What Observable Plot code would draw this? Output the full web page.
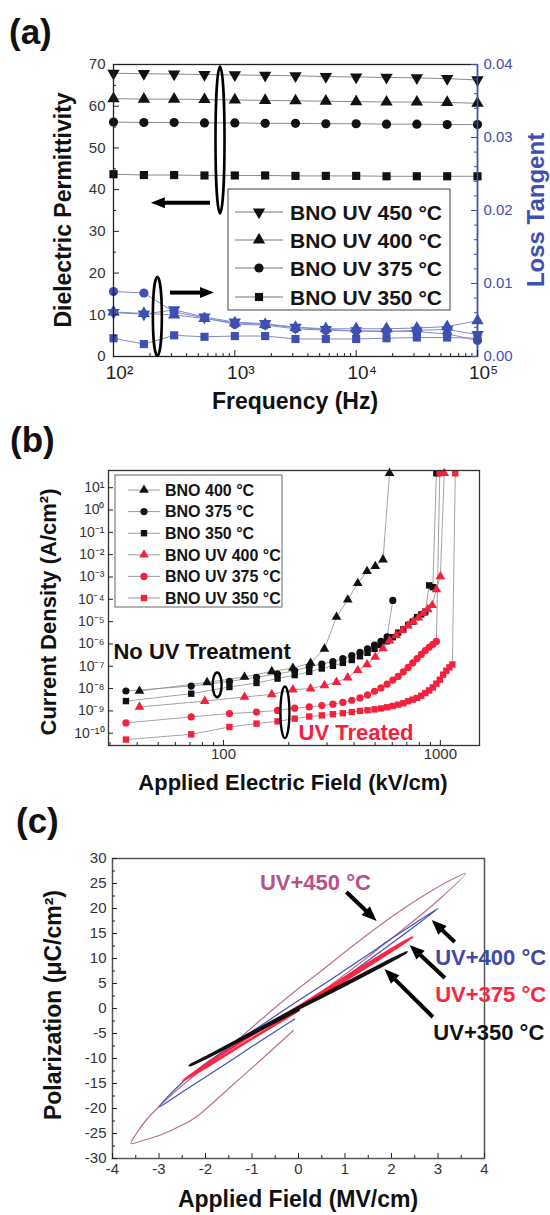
<!DOCTYPE html>
<html><head><meta charset="utf-8">
<script src="https://cdn.jsdelivr.net/npm/d3@7"></script>
<script src="https://cdn.jsdelivr.net/npm/@observablehq/plot@0.6"></script>
<style>
body{margin:0;background:#fff;}
#wrap{position:relative;width:550px;height:1215px;overflow:hidden;background:#fff;font-family:Arial,"Liberation Sans",Helvetica,sans-serif}
#wrap svg{position:absolute;left:0;display:block}
</style></head><body><div id="wrap"></div>
<script>
const FONT = "Arial, 'Liberation Sans', Helvetica, sans-serif";
const W = 550;

// ================= Panel (a) data =================
const freqHz = [100,178,316,562,1000,1778,3162,5623,10000,17783,31623,56234,100000];
const labelsA = ["BNO UV 450 °C","BNO UV 400 °C","BNO UV 375 °C","BNO UV 350 °C"];
const perm450 = [67.9,67.8,67.7,67.6,67.5,67.4,67.3,67.1,67.0,66.9,66.8,66.6,66.3];
const perm400 = [61.8,61.7,61.7,61.6,61.5,61.4,61.3,61.2,61.1,61.0,61.0,60.9,60.7];
const perm375 = [56.2,56.1,56.1,56.0,56.0,55.9,55.9,55.8,55.8,55.7,55.7,55.6,55.6];
const perm350 = [43.7,43.5,43.5,43.4,43.4,43.4,43.3,43.3,43.3,43.2,43.2,43.2,43.2];
const loss450 = [0.0060,0.0058,0.0064,0.0054,0.0047,0.0045,0.0040,0.0037,0.0035,0.0034,0.0036,0.0037,0.0030];
const loss400 = [0.0061,0.0059,0.0057,0.0052,0.0046,0.0044,0.0040,0.0038,0.0038,0.0038,0.0039,0.0041,0.0049];
const loss375 = [0.0089,0.0087,0.0061,0.0053,0.0044,0.0043,0.0038,0.0036,0.0035,0.0035,0.0034,0.0031,0.0022];
const loss350 = [0.0025,0.0017,0.0029,0.0027,0.0028,0.0028,0.0024,0.0024,0.0024,0.0025,0.0026,0.0026,0.0025];
const permTicks = [0,10,20,30,40,50,60,70];
const lossTicks = [0,0.01,0.02,0.03,0.04];
const freqTicks = [100,1000,10000,100000];
const freqTickLabels = ["10²","10³","10⁴","10⁵"];
// annotation positions (data units)
const arrowsA = [{x1:630,y1:36.75,x2:205,y2:36.75},{x1:295,y1:15.2,x2:680,y2:15.2}];
const ellipsesA = [{x:762,y1:34.2,y2:69.4},{x:232,y1:0,y2:19}];

// ================= Panel (b) data =================
const labelsB = ["BNO 400 °C","BNO 375 °C","BNO 350 °C","BNO UV 400 °C","BNO UV 375 °C","BNO UV 350 °C"];
const bno400E = [41,84,125,167,209,252,292,332,374,416,459,501,544,583];
const bno400J = [7.8e-9,1.9e-8,3.3e-8,5.9e-8,8.3e-8,1.4e-7,6.0e-7,1.6e-5,9.5e-5,5.2e-4,1.8e-3,3.0e-3,6.0e-3,44];
const bno375E = [35.5,71,106.5,142,177.5,213,248.5,284,319.5,355,390.5,426,461.5,497,532.5,568,603.5];
const bno375J = [7.8e-9,1.3e-8,2.1e-8,3.2e-8,4.5e-8,6.3e-8,9.5e-8,1.26e-7,1.6e-7,2.2e-7,3.0e-7,4.2e-7,6.0e-7,8.9e-7,1.32e-6,2.1e-6,8.9e-5];
const bno350E = [35.5,71,106.5,142,177.5,213,248.5,284,319.5,355,390.5,426,461.5,497,532.5,568,603.5,639,674.5,710,745.5,781,816.5,852,887.5,923,958.5];
const bno350J = [2.75e-9,5.9e-9,1.17e-8,1.78e-8,2.8e-8,4.0e-8,5.6e-8,7.9e-8,1.05e-7,1.41e-7,1.9e-7,2.8e-7,4.0e-7,6.0e-7,8.9e-7,1.32e-6,2.0e-6,3.2e-6,4.5e-6,7.1e-6,1.0e-5,1.6e-5,2.1e-5,2.8e-5,4.2e-4,3.5e-4,44];
const uv400E = [41,82,125,167,209,252,292,332,374,416,459,501,544,583,625,667,709,750,792,834,875,917,959,1000,1042];
const uv400J = [1.5e-9,2.75e-9,4.2e-9,5.5e-9,8.9e-9,1.0e-8,1.38e-8,1.95e-8,3.1e-8,6.6e-8,1.2e-7,2.6e-7,6.2e-7,1.41e-6,2.4e-6,4.0e-6,6.6e-6,1.0e-5,1.5e-5,2.4e-5,3.5e-5,5.4e-5,2.75e-4,1.05e-3,44];
const uv375E = [35.5,71,106.5,142,177.5,213,248.5,284,319.5,355,390.5,426,461.5,497,532.5,568,603.5,639,674.5,710,745.5,781,816.5,852,887.5,923,958.5,994];
const uv375J = [2.9e-10,5.4e-10,7.6e-10,8.9e-10,1.05e-9,1.32e-9,1.51e-9,1.74e-9,2.0e-9,2.4e-9,3.0e-9,3.8e-9,5.2e-9,7.6e-9,1.07e-8,1.58e-8,2.4e-8,3.5e-8,5.6e-8,8.9e-8,1.41e-7,2.2e-7,3.4e-7,5.0e-7,7.1e-7,9.5e-7,1.29e-6,44];
const uv350E = [35.5,71,106.5,142,177.5,213,248.5,284,319.5,355,390.5,426,461.5,497,532.5,568,603.5,639,674.5,710,745.5,781,816.5,852,887.5,923,958.5,994,1029.5,1065,1100.5,1136,1171.5];
const uv350J = [5.2e-11,8.9e-11,1.9e-10,2.7e-10,3.4e-10,4.5e-10,5.6e-10,6.3e-10,7.1e-10,7.9e-10,8.9e-10,1.0e-9,1.07e-9,1.17e-9,1.29e-9,1.45e-9,1.66e-9,1.9e-9,2.2e-9,2.7e-9,3.2e-9,3.8e-9,4.8e-9,6.3e-9,8.3e-9,1.12e-8,1.66e-8,2.5e-8,4.2e-8,6.3e-8,8.9e-8,1.2e-7,44];
const jTicks = [1e1,1e0,1e-1,1e-2,1e-3,1e-4,1e-5,1e-6,1e-7,1e-8,1e-9,1e-10];
const jTickLabels = ["10¹","10⁰","10⁻¹","10⁻²","10⁻³","10⁻⁴","10⁻⁵","10⁻⁶","10⁻⁷","10⁻⁸","10⁻⁹","10⁻¹⁰"];
const fieldTicks = [100,1000];
const fieldTickLabels = ["100","1000"];
const notesB = [{x:31.1,y:4.2e-7,text:"No UV Treatment",color:"#111"},{x:222,y:1.0e-10,text:"UV Treated",color:"#f5203c"}];
const ellipsesB = [{x:94,y1:5.0e-8,y2:3.9e-9},{x:193,y1:1.17e-8,y2:5.8e-11}];

// ================= Panel (c) data =================
const labelsC = ["UV+450 °C","UV+400 °C","UV+375 °C","UV+350 °C"];
const loop450E = [0,1.0,2.0,3.0,3.59,3.3,2.8,2.2,1.6,1.0,0.5,0,-0.5,-1,-1.5,-2,-2.5,-3,-3.3,-3.5,-3.6,-3.35,-2.92,-2.5,-2.2,-1.5,-0.8,-0.11];
const loop450P = [0,6.8,14.0,21.6,27,25.8,23.2,19.6,15.6,11.3,7.6,4.0,0.2,-3.8,-7.8,-11.6,-15.4,-19.6,-22.6,-25.2,-27,-26.4,-25.1,-23.3,-21.7,-16.0,-10.2,-4.4];
const loop400E = [0,1,2,3,2.5,2,1.5,1,0.5,0,-0.5,-1,-1.5,-2,-2.5,-3,-2.5,-2,-1.5,-1,-0.5,-0.08];
const loop400P = [0,6.3,13,20,17,14,10.8,7.7,4.6,1.6,-1.5,-4.6,-7.8,-11,-14.8,-19.7,-16.7,-13.7,-10.7,-7.6,-4.6,-2.1];
const loop375E = [0,1,2,2.45,2,1,0,-1,-2,-2.48,-2,-1,0];
const loop375P = [0,5.6,11.5,14.3,11.9,6.2,0.4,-5.3,-11.3,-14.4,-11.8,-6.0,-0.4];
const loop350E = [0,1,2,2.33,2,1,0,-1,-2,-2.34,-2,-1,0];
const loop350P = [0,4.7,9.6,11.3,9.8,5.0,0.2,-4.8,-9.8,-11.4,-9.9,-5.1,-0.2];
const labelCX = [-0.83,2.94,2.94,2.90];
const labelCY = [25.2,10.2,2.8,-4.8];
const arrowsC = [{x1:1.04,y1:23.2,x2:1.69,y2:17.4},{x1:3.37,y1:13.2,x2:2.875,y2:17.6},{x1:3.16,y1:6.0,x2:2.40,y2:12.6},{x1:2.90,y1:-1.8,x2:1.86,y2:7.8}];
const fieldCTicks = [-4,-3,-2,-1,0,1,2,3,4];
const polTicks = [-30,-25,-20,-15,-10,-5,0,5,10,15,20,25,30];

// ================= helpers =================
const triangleDown = {
  draw(ctx, size) {
    const y = -Math.sqrt(size / (Math.sqrt(3) * 3));
    ctx.moveTo(0, -y * 2);
    ctx.lineTo(-Math.sqrt(3) * y, y);
    ctx.lineTo(Math.sqrt(3) * y, y);
    ctx.closePath();
  }
};
const d3sym = {triangle: d3.symbolTriangle, circle: d3.symbolCircle, square: d3.symbolSquare};
const symOf = s => typeof s === "string" ? d3sym[s] : s;

const tickB = (vals, len, innerH, stroke="#222", sw=1) => Plot.tickX(vals, {x: d => d, insetTop: innerH - len, stroke, strokeWidth: sw});
const tickL = (vals, len, innerW, stroke="#222", sw=1) => Plot.tickY(vals, {y: d => d, insetRight: innerW - len, stroke, strokeWidth: sw});
const tickR = (vals, len, innerW, stroke="#222", sw=1) => Plot.tickY(vals, {y: d => d, insetLeft: innerW - len, stroke, strokeWidth: sw});

function render(draw) {
  return (index, scales, values, dims) => {
    const g = d3.create("svg:g").attr("text-anchor", "start");
    draw(g, scales, dims);
    return g.node();
  };
}
function arrow(g, x1, y1, x2, y2, {width=4, headLen=13, headW=12, color="#000"} = {}) {
  const dx = x2 - x1, dy = y2 - y1, L = Math.hypot(dx, dy), ux = dx / L, uy = dy / L;
  const bx = x2 - ux * headLen, by = y2 - uy * headLen;
  g.append("line").attr("x1", x1).attr("y1", y1).attr("x2", bx + ux).attr("y2", by + uy)
    .attr("stroke", color).attr("stroke-width", width);
  g.append("path").attr("d", `M${x2},${y2}L${bx - uy * headW / 2},${by + ux * headW / 2}L${bx + uy * headW / 2},${by - ux * headW / 2}Z`).attr("fill", color);
}
function legend(g, dims, o) {
  const X0 = dims.marginLeft, Y0 = dims.marginTop;
  g.append("rect").attr("x", X0 + o.ox).attr("y", Y0 + o.oy).attr("width", o.w).attr("height", o.h)
    .attr("fill", "#fff").attr("stroke", o.boxStroke).attr("stroke-width", 1);
  o.rows.forEach(rw => {
    const yy = Y0 + rw.dy;
    g.append("line").attr("x1", X0 + o.lx1).attr("x2", X0 + o.lx2).attr("y1", yy).attr("y2", yy)
      .attr("stroke", o.lineColor).attr("stroke-width", 1);
    g.append("path").attr("transform", `translate(${X0 + o.sx},${yy})`)
      .attr("d", d3.symbol(symOf(rw.sym), Math.PI * o.r * o.r)()).attr("fill", rw.color);
    g.append("text").attr("x", X0 + o.tx).attr("y", yy).attr("dy", "0.36em").attr("text-anchor", "start")
      .attr("font-weight", "bold").attr("font-size", o.fontSize).attr("fill", "#151515")
      .attr("font-family", FONT).text(rw.label);
  });
}
const baseStyle = {fontFamily: FONT, fontSize: "15px", background: "transparent", overflow: "visible", color: "#222"};

const wrap = document.getElementById("wrap");

// ================= Panel (a) =================
{
  const H = 420, m = {top: 64, right: 73, bottom: 64, left: 113};
  const iW = W - m.left - m.right, iH = H - m.top - m.bottom;
  const K = 70 / 0.04;
  const blue = "#3f50b3";
  const permSeries = [perm450, perm400, perm375, perm350];
  const lossSeries = [loss450, loss400, loss375, loss350];
  const syms = [triangleDown, "triangle", "circle", "square"];
  const permRows = labelsA.map((label, i) => freqHz.map((f, j) => ({label, f, v: permSeries[i][j]})));
  const lossRows = labelsA.map((label, i) => freqHz.map((f, j) => ({label, f, v: lossSeries[i][j] * K})));
  const minorF = [200,300,400,500,600,700,800,900,2000,3000,4000,5000,6000,7000,8000,9000,20000,30000,40000,50000,60000,70000,80000,90000];
  const marks = [];
  [0,1,2,3].forEach(i => {
    marks.push(Plot.line(permRows[i], {x: "f", y: "v", stroke: "#8a8a8a", strokeWidth: 1}));
    marks.push(Plot.dot(permRows[i], {x: "f", y: "v", symbol: syms[i], fill: "#111", r: 4.6}));
  });
  [0,2,1,3].forEach(i => {
    marks.push(Plot.line(lossRows[i], {x: "f", y: "v", stroke: "#7f8bcc", strokeWidth: 1}));
    marks.push(Plot.dot(lossRows[i], {x: "f", y: "v", symbol: syms[i], fill: blue, r: 4.6}));
  });
  marks.push(
    Plot.frame({stroke: "#222", strokeWidth: 1.3}),
    Plot.ruleX([1e5], {stroke: blue, strokeWidth: 1.5}),
    tickB(freqTicks, 6, iH), tickB(minorF, 3, iH),
    tickL(permTicks, 6, iW), tickL([5,15,25,35,45,55,65], 3, iW),
    tickR(lossTicks.map(d => d * K), 6, iW, blue),
    tickR([0.002,0.004,0.006,0.008,0.012,0.014,0.016,0.018,0.022,0.024,0.026,0.028,0.032,0.034,0.036,0.038].map(d => d * K), 3, iW, blue),
    Plot.text(permTicks, {y: d => d, text: d => String(d), frameAnchor: "left", textAnchor: "end", dx: -8, fontSize: 15, fill: "#333"}),
    Plot.text(lossTicks, {y: d => d * K, text: d => d.toFixed(2), frameAnchor: "right", textAnchor: "start", dx: 6, fontSize: 15, fill: blue}),
    Plot.text(freqTicks, {x: d => d, text: (d, i) => freqTickLabels[i], frameAnchor: "bottom", dx: 6, dy: 22, fontSize: 19, fill: "#222"}),
    render((g, s, dims) => {
      ellipsesA.forEach(e => {
        const ya = s.y(e.y1), yb = s.y(e.y2);
        g.append("ellipse").attr("cx", s.x(e.x)).attr("cy", (ya + yb) / 2).attr("rx", 4.5).attr("ry", Math.abs(ya - yb) / 2)
          .attr("fill", "none").attr("stroke", "#000").attr("stroke-width", 2.6);
      });
      arrowsA.forEach(a => arrow(g, s.x(a.x1), s.y(a.y1), s.x(a.x2), s.y(a.y2), {width: 4, headLen: 14, headW: 11}));
      legend(g, dims, {ox: 115, oy: 125, w: 222, h: 121, r: 4.6, lx1: 122, lx2: 170, sx: 146, tx: 177, fontSize: 21,
        boxStroke: "#444", lineColor: "#777",
        rows: labelsA.map((label, i) => ({label, sym: syms[i], color: "#111", dy: [148, 176, 204, 233][i]}))});
    })
  );
  const svg = Plot.plot({width: W, height: H, marginTop: m.top, marginRight: m.right, marginBottom: m.bottom, marginLeft: m.left,
    x: {type: "log", domain: [100, 1e5], axis: null}, y: {domain: [0, 70], axis: null}, style: baseStyle, marks});
  svg.style.top = "0px";
  wrap.appendChild(svg);
}

// ================= Panel (b) =================
{
  const H = 380, m = {top: 50, right: 71, bottom: 55, left: 108};
  const iW = W - m.left - m.right, iH = H - m.top - m.bottom;
  const red = "#f5203c";
  const series = [
    {E: bno400E, J: bno400J, sym: "triangle", color: "#111"},
    {E: bno375E, J: bno375J, sym: "circle", color: "#111"},
    {E: bno350E, J: bno350J, sym: "square", color: "#111"},
    {E: uv400E, J: uv400J, sym: "triangle", color: red},
    {E: uv375E, J: uv375J, sym: "circle", color: red},
    {E: uv350E, J: uv350J, sym: "square", color: red}
  ];
  const marks = [];
  series.forEach(sr => {
    const rows = sr.E.map((e, j) => ({e, j: sr.J[j]}));
    marks.push(Plot.line(rows, {x: "e", y: "j", stroke: "#8c8c8c", strokeWidth: 0.8}));
  });
  series.forEach(sr => {
    const rows = sr.E.map((e, j) => ({e, j: sr.J[j]}));
    marks.push(Plot.dot(rows, {x: "e", y: "j", symbol: sr.sym, fill: sr.color, r: 3.6}));
  });
  marks.push(
    Plot.frame({stroke: "#333", strokeWidth: 1.3}),
    tickB(fieldTicks, 5, iH), tickB([30,40,50,60,70,80,90,200,300,400,500,600,700,800,900], 3, iH),
    tickL(jTicks, 5, iW),
    Plot.text(jTicks, {y: d => d, text: (d, i) => jTickLabels[i], frameAnchor: "left", textAnchor: "end", dx: -4, fontSize: 14, fill: "#333"}),
    Plot.text(fieldTicks, {x: d => d, text: (d, i) => fieldTickLabels[i], frameAnchor: "bottom", dy: 13, fontSize: 15, fill: "#333"}),
    ...notesB.map(n => Plot.text([n], {x: "x", y: "y", text: "text", fill: n.color, textAnchor: "start", fontWeight: "bold", fontSize: 22})),
    render((g, s, dims) => {
      ellipsesB.forEach(e => {
        const ya = s.y(e.y1), yb = s.y(e.y2);
        g.append("ellipse").attr("cx", s.x(e.x)).attr("cy", (ya + yb) / 2).attr("rx", 4.5).attr("ry", Math.abs(ya - yb) / 2)
          .attr("fill", "none").attr("stroke", "#000").attr("stroke-width", 2.4);
      });
      legend(g, dims, {ox: 7, oy: 5, w: 167, h: 132, r: 3.6, lx1: 20, lx2: 52, sx: 36, tx: 57, fontSize: 16,
        boxStroke: "#666", lineColor: "#999",
        rows: labelsB.map((label, i) => ({label, sym: series[i].sym, color: series[i].color, dy: 20 + i * 21.6}))});
    })
  );
  const svg = Plot.plot({width: W, height: H, marginTop: m.top, marginRight: m.right, marginBottom: m.bottom, marginLeft: m.left,
    x: {type: "log", domain: [29.5, 1515], axis: null}, y: {type: "log", domain: [10 ** -10.55, 10 ** 1.77], axis: null},
    style: baseStyle, marks});
  svg.style.top = "420px";
  wrap.appendChild(svg);
}

// ================= Panel (c) =================
{
  const H = 415, m = {top: 58, right: 66, bottom: 57, left: 112};
  const iW = W - m.left - m.right, iH = H - m.top - m.bottom;
  const colors = ["#bb4f8c", "#3f4aa8", "#ff2340", "#111"];
  const lineColors = ["#b9709a", "#4153b0", "#ff2340", "#111"];
  const loops = [[loop450E, loop450P, 1.2], [loop400E, loop400P, 1.2], [loop375E, loop375P, 2.6], [loop350E, loop350P, 2.8]];
  const marks = [Plot.frame({stroke: "#555", strokeWidth: 1.5})];
  loops.forEach(([E, P, sw], i) => {
    const rows = E.map((e, j) => ({e, p: P[j]}));
    marks.push(Plot.line(rows, {x: "e", y: "p", stroke: lineColors[i], strokeWidth: sw, curve: "catmull-rom"}));
  });
  labelsC.forEach((t, i) => {
    marks.push(Plot.text([{x: labelCX[i], y: labelCY[i], t}], {x: "x", y: "y", text: "t", fill: colors[i], textAnchor: "start", fontWeight: "bold", fontSize: 22}));
  });
  marks.push(
    tickB(fieldCTicks, 5, iH), tickB([-3.5,-2.5,-1.5,-0.5,0.5,1.5,2.5,3.5], 3, iH),
    tickL(polTicks, 5, iW), tickL([-27.5,-22.5,-17.5,-12.5,-7.5,-2.5,2.5,7.5,12.5,17.5,22.5,27.5], 3, iW),
    Plot.text(polTicks, {y: d => d, text: d => String(d), frameAnchor: "left", textAnchor: "end", dx: -6, fontSize: 15, fill: "#333"}),
    Plot.text(fieldCTicks, {x: d => d, text: d => String(d), frameAnchor: "bottom", dy: 15, fontSize: 15, fill: "#333"}),
    render((g, s) => {
      arrowsC.forEach(a => arrow(g, s.x(a.x1), s.y(a.y1), s.x(a.x2), s.y(a.y2), {width: 4, headLen: 15, headW: 12}));
    })
  );
  const svg = Plot.plot({width: W, height: H, marginTop: m.top, marginRight: m.right, marginBottom: m.bottom, marginLeft: m.left,
    x: {domain: [-4, 4], axis: null}, y: {domain: [-30, 30], axis: null}, style: baseStyle, marks});
  svg.style.top = "800px";
  wrap.appendChild(svg);
}

// ================= titles overlay =================
{
  const ov = d3.create("svg").attr("width", W).attr("height", 1215).style("top", "0px").style("pointer-events", "none")
    .attr("font-family", FONT).attr("font-weight", "bold");
  const tags = [["(a)", 9, 44], ["(b)", 10, 452], ["(c)", 16, 833]];
  tags.forEach(([t, x, y]) => ov.append("text").attr("x", x).attr("y", y).attr("font-size", 35).attr("fill", "#111").text(t));
  const hTitles = [["Frequency (Hz)", 295, 409, 23], ["Applied Electric Field (kV/cm)", 293, 790, 22], ["Applied Field (MV/cm)", 298, 1207, 23]];
  hTitles.forEach(([t, x, y, fs]) => ov.append("text").attr("x", x).attr("y", y).attr("text-anchor", "middle").attr("font-size", fs).attr("fill", "#111").text(t));
  const vTitles = [["Dielectric Permittivity", 63, 210, 23, "#111"], ["Loss Tangent", 536, 210, 24, "#3f50b3"],
    ["Current Density (A/cm²)", 48, 612, 22, "#111"], ["Polarization (μC/cm²)", 53, 1005, 23, "#111"]];
  vTitles.forEach(([t, x, y, fs, c]) => ov.append("text").attr("transform", `translate(${x},${y}) rotate(-90)`)
    .attr("text-anchor", "middle").attr("dy", "0.35em").attr("font-size", fs).attr("fill", c).text(t));
  wrap.appendChild(ov.node());
}
</script></body></html>
